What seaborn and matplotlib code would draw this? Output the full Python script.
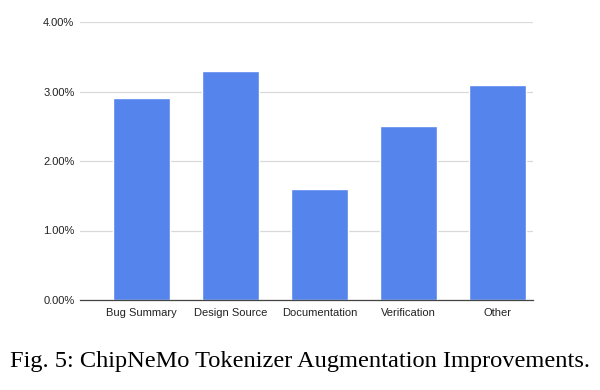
import matplotlib
matplotlib.use("Agg")
import matplotlib.pyplot as plt
import seaborn as sns
import pandas as pd
from matplotlib.ticker import FuncFormatter

categories = ["Bug Summary", "Design Source", "Documentation", "Verification", "Other"]
improvement = [2.9, 3.3, 1.6, 2.5, 3.1]
yticks = [0, 1, 2, 3, 4]
caption = "Fig. 5: ChipNeMo Tokenizer Augmentation Improvements."

df = pd.DataFrame({"domain": categories, "improvement": improvement})

sns.set_style("white")
plt.rcParams["font.family"] = ["Liberation Sans", "DejaVu Sans"]

fig = plt.figure(figsize=(6, 3.9), dpi=100)
ax = fig.add_axes([80 / 600, 1 - 300 / 390, 453 / 600, 278 / 390])

sns.barplot(data=df, x="domain", y="improvement", color="#5484ec",
            saturation=1, width=0.64, ax=ax, zorder=3)

ax.set_ylim(0, 4)
ax.set_xlim(-0.69, 4.40)
ax.set_yticks(yticks)
ax.yaxis.set_major_formatter(FuncFormatter(lambda v, p: f"{v:.2f}%"))
ax.grid(axis="y", color="#d9d9d9", linewidth=0.9, zorder=0)
ax.set_xlabel("")
ax.set_ylabel("")
for s in ["top", "right", "left"]:
    ax.spines[s].set_visible(False)
ax.spines["bottom"].set_color("#444444")
ax.spines["bottom"].set_linewidth(0.9)
ax.spines["bottom"].set_zorder(4)
ax.tick_params(axis="both", length=0, labelsize=8, colors="#222222")
ax.tick_params(axis="y", pad=4)
ax.tick_params(axis="x", pad=6)

fig.text(0.5, 1 - 362 / 390, caption, ha="center", va="center",
         family=["Liberation Serif", "DejaVu Serif"], fontsize=17.6, color="black")

fig.savefig("out.png", dpi=100)
